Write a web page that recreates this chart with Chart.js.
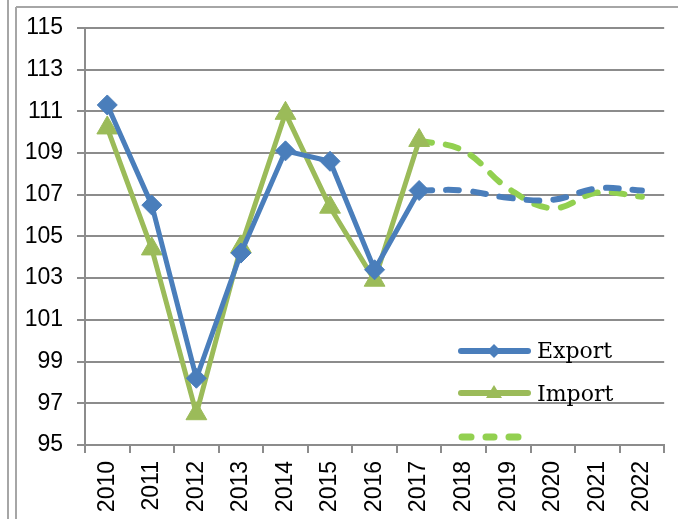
<!DOCTYPE html>
<html>
<head>
<meta charset="utf-8">
<script src="https://cdn.jsdelivr.net/npm/chart.js@4/dist/chart.umd.min.js"></script>
<style>
  html, body { margin: 0; padding: 0; background: #ffffff; }
  #wrap { position: relative; width: 678px; height: 519px; }
</style>
</head>
<body>
<div id="wrap"><canvas id="c" width="678" height="519"></canvas></div>
<script>
const categories = ['2010','2011','2012','2013','2014','2015','2016','2017','2018','2019','2020','2021','2022'];
const exportActual = [111.3, 106.5, 98.2, 104.2, 109.1, 108.6, 103.4, 107.2, null, null, null, null, null];
const importActual = [110.2, 104.4, 96.5, 104.5, 110.9, 106.4, 102.9, 109.6, null, null, null, null, null];
const exportForecast = [null, null, null, null, null, null, null, 107.2, 107.2, 106.85, 106.75, 107.3, 107.2];
const importForecast = [null, null, null, null, null, null, null, 109.6, 109.1, 107.3, 106.35, 107.1, 106.9];
const legendLabels = ['Export', 'Import'];
const yMin = 95, yMax = 115, yStep = 2;

const BLUE = '#4A7EBB';
const GREEN = '#9BBB59';
const LGREEN = '#92D050';
const GRID = '#8c8c8c';

const framePlugin = {
  id: 'frame',
  beforeDraw(chart) {
    const ctx = chart.ctx;
    ctx.save();
    ctx.fillStyle = '#ffffff';
    ctx.fillRect(0, 0, chart.width, chart.height);
    ctx.strokeStyle = '#a6a6a6';
    ctx.lineWidth = 2;
    ctx.beginPath();
    ctx.moveTo(8, 0); ctx.lineTo(8, chart.height);
    ctx.moveTo(16, 7); ctx.lineTo(16, chart.height);
    ctx.moveTo(16, 7); ctx.lineTo(chart.width, 7);
    ctx.stroke();
    ctx.restore();
  }
};

const legendPlugin = {
  id: 'customLegend',
  afterDraw(chart) {
    const ctx = chart.ctx;
    ctx.save();
    ctx.lineCap = 'round';
    // Export
    ctx.strokeStyle = BLUE; ctx.lineWidth = 6;
    ctx.beginPath(); ctx.moveTo(461, 351); ctx.lineTo(528, 351); ctx.stroke();
    ctx.fillStyle = BLUE;
    ctx.beginPath(); ctx.moveTo(494, 344); ctx.lineTo(501, 351); ctx.lineTo(494, 358); ctx.lineTo(487, 351); ctx.closePath(); ctx.fill();
    // Import
    ctx.strokeStyle = GREEN;
    ctx.beginPath(); ctx.moveTo(461, 393); ctx.lineTo(528, 393); ctx.stroke();
    ctx.fillStyle = GREEN;
    ctx.beginPath(); ctx.moveTo(494, 385); ctx.lineTo(502, 398); ctx.lineTo(486, 398); ctx.closePath(); ctx.fill();
    // dashed forecast
    ctx.strokeStyle = LGREEN; ctx.lineWidth = 7;
    [[462, 471], [486, 494], [509, 518]].forEach(([a, b]) => {
      ctx.beginPath(); ctx.moveTo(a, 437); ctx.lineTo(b, 437); ctx.stroke();
    });
    ctx.fillStyle = '#000000';
    ctx.font = '22px "DejaVu Serif"';
    ctx.textBaseline = 'alphabetic';
    ctx.fillText(legendLabels[0], 537, 358);
    ctx.fillText(legendLabels[1], 537, 401);
    ctx.restore();
  }
};

new Chart(document.getElementById('c'), {
  type: 'line',
  data: {
    labels: categories,
    datasets: [
      {
        label: 'Export', data: exportActual,
        borderColor: BLUE, backgroundColor: BLUE, borderWidth: 5,
        pointStyle: 'rectRot', pointRadius: 10, pointHoverRadius: 10,
        pointBackgroundColor: BLUE, pointBorderColor: BLUE, pointBorderWidth: 1,
        tension: 0, borderJoinStyle: 'round', spanGaps: false
      },
      {
        label: 'Import', data: importActual,
        borderColor: GREEN, backgroundColor: GREEN, borderWidth: 5,
        pointStyle: 'triangle', pointRadius: 12, pointHoverRadius: 12,
        pointBackgroundColor: GREEN, pointBorderColor: GREEN, pointBorderWidth: 1,
        tension: 0, borderJoinStyle: 'round', spanGaps: false
      },
      {
        label: 'Export forecast', data: exportForecast,
        borderColor: BLUE, borderWidth: 6, borderDash: [13, 14], borderCapStyle: 'round',
        pointRadius: 0, tension: 0.4
      },
      {
        label: 'Import forecast', data: importForecast,
        borderColor: LGREEN, borderWidth: 6, borderDash: [13, 14], borderCapStyle: 'round',
        pointRadius: 0, tension: 0.4
      }
    ]
  },
  options: {
    responsive: false,
    animation: false,
    devicePixelRatio: 1,
    layout: { padding: { left: 0, top: 24, right: 10, bottom: 0 } },
    plugins: { legend: { display: false }, tooltip: { enabled: false } },
    scales: {
      x: {
        offset: true,
        grid: { offset: true, drawOnChartArea: false, drawTicks: true, tickLength: 8, color: GRID, lineWidth: 2 },
        border: { color: GRID, width: 2 },
        ticks: { minRotation: 90, maxRotation: 90, padding: 8, color: '#000', font: { family: '"Liberation Sans"', size: 23 } },
        afterFit(s) { s.height = 74; }
      },
      y: {
        min: yMin, max: yMax,
        grid: { color: GRID, lineWidth: 2, tickLength: 8 },
        border: { color: GRID, width: 2 },
        ticks: { stepSize: yStep, padding: 14, color: '#000', font: { family: '"Liberation Sans"', size: 23 } },
        afterFit(s) { s.width = 85; }
      }
    }
  },
  plugins: [framePlugin, legendPlugin]
});
</script>
</body>
</html>
